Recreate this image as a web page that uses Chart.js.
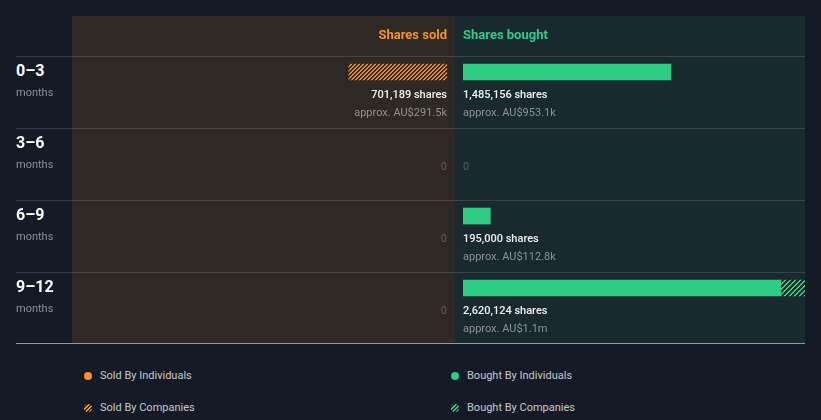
<!DOCTYPE html>
<html>
<head>
<meta charset="utf-8">
<script src="https://cdn.jsdelivr.net/npm/chart.js@4"></script>
<style>
  html,body{margin:0;padding:0;background:#151b26;width:821px;height:420px;overflow:hidden;font-family:Roboto,"Open Sans",sans-serif;}
  .abs{position:absolute;}
  .panel{position:absolute;top:16px;height:327px;}
  .hline{position:absolute;left:16px;width:789px;height:1px;background:rgba(255,255,255,0.13);}
  .txt{position:absolute;white-space:nowrap;line-height:16px;}
  .period{font-size:16px;font-weight:700;color:#ffffff;}
  .months{font-size:11px;color:#8b8e93;}
  .hdr{font-size:13px;font-weight:700;}
  .leg{font-size:11px;color:#c5c8cc;}
  .dot{position:absolute;width:8px;height:8px;border-radius:50%;}
</style>
</head>
<body>
<div class="panel" style="left:72px;width:383px;background:#2e2924;"></div>
<div class="panel" style="left:455px;width:350px;background:#182a2e;"></div>
<canvas id="sold" class="abs" width="383" height="327" style="left:72px;top:16px;"></canvas>
<canvas id="bought" class="abs" width="350" height="327" style="left:455px;top:16px;"></canvas>
<div id="deco"></div>
<script>
// ---- data ----
const periods = ['0\u20133', '3\u20136', '6\u20139', '9\u201312'];
const soldIndividuals = [0, 0, 0, 0];
const soldCompanies = [701189, 0, 0, 0];
const boughtIndividuals = [1485156, 0, 195000, 2271000];
const boughtCompanies = [0, 0, 0, 349124];
const soldValues = ['AU$291.5k', '', '', ''];
const boughtValues = ['AU$953.1k', '', 'AU$112.8k', 'AU$1.1m'];
const legendLabels = ['Sold By Individuals', 'Bought By Individuals', 'Sold By Companies', 'Bought By Companies'];

const ORANGE = '#f7931e';
const GREEN = '#2ecc85';
const SOLD_MAX = 2680000;
const BOUGHT_MAX = 2443000;

// crisp pixel hatch: stripes "/" inside a square tile; alphas per stripe pixel offset
function hatch(rgb, size, alphas) {
  const c = document.createElement('canvas');
  c.width = c.height = size;
  const x = c.getContext('2d');
  const img = x.createImageData(size, size);
  for (let yy = 0; yy < size; yy++) {
    for (let xx = 0; xx < size; xx++) {
      const a = alphas[(xx + yy) % size] || 0;
      const p = (yy * size + xx) * 4;
      img.data[p] = rgb[0]; img.data[p + 1] = rgb[1]; img.data[p + 2] = rgb[2]; img.data[p + 3] = a;
    }
  }
  x.putImageData(img, 0, 0);
  return x.createPattern(c, 'repeat');
}

const fmt = n => n.toLocaleString('en-US');
const nz = arr => arr.map(v => (v > 0 ? v : null));

function labelPlugin(ind, comp, values, align) {
  return {
    id: 'vlabels',
    afterDatasetsDraw(chart) {
      const ctx = chart.ctx;
      const yScale = chart.scales.y;
      const x0 = chart.scales.x.getPixelForValue(0);
      ctx.save();
      ctx.textAlign = align;
      ctx.textBaseline = 'middle';
      periods.forEach((p, i) => {
        const y = yScale.getPixelForValue(i);
        const total = ind[i] + comp[i];
        if (total > 0) {
          ctx.font = '500 11px Roboto';
          ctx.fillStyle = '#f2f2f2';
          ctx.fillText(fmt(total) + ' shares', x0, y + 23);
          ctx.font = '400 11px Roboto';
          ctx.fillStyle = '#8e9191';
          ctx.fillText('approx. ' + values[i], x0, y + 41);
        } else {
          ctx.font = '400 11px Roboto';
          ctx.fillStyle = '#5e5e5e';
          ctx.fillText('0', x0, y + 23);
        }
      });
      ctx.restore();
    }
  };
}

function makeChart(id, ind, comp, values, color, pattern, max, reverse, pad, names) {
  return new Chart(document.getElementById(id), {
    type: 'bar',
    data: {
      labels: periods,
      datasets: [
        { label: names[0], data: nz(ind), backgroundColor: color, barThickness: 16, borderWidth: 0 },
        { label: names[1], data: nz(comp), backgroundColor: pattern, barThickness: 16, borderWidth: 0 }
      ]
    },
    options: {
      indexAxis: 'y',
      responsive: false,
      animation: false,
      layout: { padding: pad },
      scales: {
        x: { stacked: true, reverse: reverse, min: 0, max: max, display: false },
        y: { stacked: true, display: false }
      },
      plugins: { legend: { display: false }, tooltip: { enabled: false } }
    },
    plugins: [labelPlugin(ind, comp, values, reverse ? 'right' : 'left')]
  });
}

makeChart('sold', soldIndividuals, soldCompanies, soldValues, ORANGE, hatch([255, 148, 20], 4, [0, 0, 200, 255]),
  SOLD_MAX, true, { top: 20, bottom: 19, left: 0, right: 8 }, [legendLabels[0], legendLabels[2]]);
makeChart('bought', boughtIndividuals, boughtCompanies, boughtValues, GREEN, hatch([46, 204, 133], 5, [0, 0, 0, 255, 255]),
  BOUGHT_MAX, false, { top: 20, bottom: 19, left: 8, right: 0 }, [legendLabels[1], legendLabels[3]]);

// ---- decorations / static text ----
const deco = document.getElementById('deco');
let html = '';
[56, 128, 200, 272].forEach(y => { html += `<div class="hline" style="top:${y}px"></div>`; });
html += `<div class="hline" style="top:343px;background:#8f9c9c"></div>`;
html += `<div class="txt hdr" style="right:${821-447}px;top:27px;color:${ORANGE}">Shares sold</div>`;
html += `<div class="txt hdr" style="left:463px;top:27px;color:${GREEN}">Shares bought</div>`;
periods.forEach((p, i) => {
  const top = 56 + i * 72;
  html += `<div class="txt period" style="left:16px;top:${top + 7}px">${p}</div>`;
  html += `<div class="txt months" style="left:16px;top:${top + 29}px">months</div>`;
});
const legPos = [[88, 376], [455, 376], [88, 408], [455, 408]];
legendLabels.forEach((l, i) => {
  const [cx, cy] = legPos[i];
  const col = i % 2 === 0 ? ORANGE : GREEN;
  const bg = i < 2 ? col : `repeating-linear-gradient(135deg, ${col} 0 1.5px, #2b2f33 1.5px 3px)`;
  html += `<div class="dot" style="left:${cx-4}px;top:${cy-4}px;background:${bg}"></div>`;
  html += `<div class="txt leg" style="left:${cx+12}px;top:${cy-8}px">${l}</div>`;
});
deco.innerHTML = html;
</script>
</body>
</html>
